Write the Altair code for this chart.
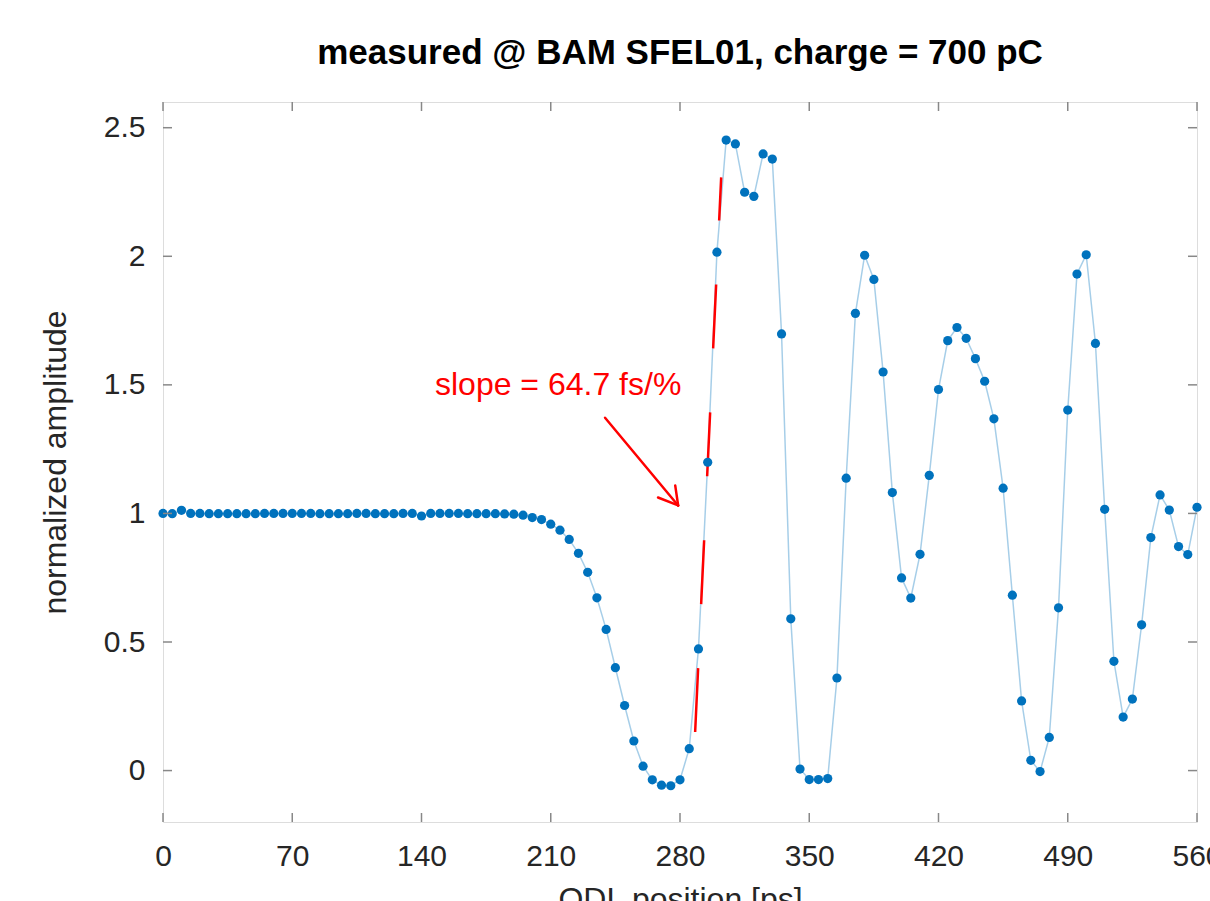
import altair as alt
import pandas as pd

# ---------------- data ----------------
x_ps = [0, 5, 10, 15, 20, 25, 30, 35, 40, 45, 50, 55, 60, 65, 70, 75, 80, 85, 90, 95,
        100, 105, 110, 115, 120, 125, 130, 135, 140, 145, 150, 155, 160, 165, 170, 175,
        180, 185, 190, 195, 200, 205, 210, 215, 220, 225, 230, 235, 240, 245, 250, 255,
        260, 265, 270, 275, 280, 285, 290, 295, 300, 305, 310, 315, 320, 325, 330, 335,
        340, 345, 350, 355, 360, 365, 370, 375, 380, 385, 390, 395, 400, 405, 410, 415,
        420, 425, 430, 435, 440, 445, 450, 455, 460, 465, 470, 475, 480, 485, 490, 495,
        500, 505, 510, 515, 520, 525, 530, 535, 540, 545, 550, 555, 560]

amplitude = [1.000, 0.999, 1.012, 1.000, 1.000, 0.999, 0.999, 0.999, 0.999, 0.999,
             0.999, 1.000, 1.000, 1.000, 1.000, 1.000, 1.000, 0.999, 0.999, 0.999,
             0.999, 1.000, 1.000, 0.999, 0.999, 0.999, 1.000, 1.000, 0.990, 1.000,
             1.000, 1.000, 1.000, 0.999, 0.999, 0.999, 0.999, 0.998, 0.997, 0.993,
             0.984, 0.976, 0.958, 0.935, 0.899, 0.845, 0.771, 0.672, 0.549, 0.400,
             0.253, 0.115, 0.017, -0.036, -0.057, -0.059, -0.036, 0.085, 0.473, 1.199,
             2.016, 2.452, 2.437, 2.249, 2.233, 2.398, 2.378, 1.698, 0.590, 0.006,
             -0.035, -0.035, -0.031, 0.360, 1.137, 1.778, 2.004, 1.910, 1.550, 1.081,
             0.749, 0.671, 0.841, 1.148, 1.482, 1.672, 1.723, 1.681, 1.602, 1.514,
             1.368, 1.098, 0.682, 0.271, 0.040, -0.004, 0.129, 0.633, 1.402, 1.931,
             2.006, 1.661, 1.016, 0.425, 0.208, 0.278, 0.567, 0.906, 1.072, 1.013,
             0.871, 0.840, 1.024]

x_ticks = [0, 70, 140, 210, 280, 350, 420, 490, 560]
y_ticks = [0, 0.5, 1, 1.5, 2, 2.5]

# fitted slope line (start -> end)
slope_x = [288.2, 302.3]
slope_y = [0.15, 2.307]

# annotation arrow: shaft + two head wings (start -> end)
arrow_x0 = [239.4, 279.0, 279.0]
arrow_y0 = [1.372, 1.031, 1.031]
arrow_x1 = [279.0, 268.1, 277.4]
arrow_y1 = [1.031, 1.062, 1.109]

note_x = [147.3]
note_y = [1.461]
note_text = ["slope = 64.7 fs/%"]

title_text = "measured @ BAM SFEL01, charge = 700 pC"
x_title = "ODL position [ps]"
y_title = "normalized amplitude"

# ---------------- chart ----------------
W, H = 1034, 720
FONT = "Liberation Sans"
BLUE = "#0072BD"
FRAME = "#888888"

xs = alt.Scale(domain=[0, 560], nice=False, zero=False)
ys = alt.Scale(domain=[-0.2, 2.6], nice=False, zero=False)

x_axis = alt.Axis(values=x_ticks, title=x_title, ticks=False, domain=False, grid=False,
                  labelFont=FONT, labelFontSize=30, labelColor="#262626",
                  labelPadding=19, labelFlush=False, labelOverlap=False, labelBound=False,
                  titleFont=FONT, titleFontSize=32, titleFontWeight="normal",
                  titleColor="#262626", titlePadding=13)
y_axis = alt.Axis(values=y_ticks, title=y_title, ticks=False, domain=False, grid=False,
                  format="~g", labelFont=FONT, labelFontSize=30, labelColor="#262626",
                  labelPadding=18, labelFlush=False, labelOverlap=False,
                  titleFont=FONT, titleFontSize=32, titleFontWeight="normal",
                  titleColor="#262626", titlePadding=31)


def X(field):
    return alt.X(field, scale=xs, axis=x_axis, title=x_title)


def Y(field):
    return alt.Y(field, scale=ys, axis=y_axis, title=y_title)


df = pd.DataFrame({"x": x_ps, "y": amplitude})

line = alt.Chart(df).mark_line(color=BLUE, opacity=0.35, strokeWidth=1.5).encode(
    x=X("x:Q"), y=Y("y:Q"))

pts = alt.Chart(df).mark_circle(color=BLUE, size=85, opacity=1).encode(
    x=X("x:Q"), y=Y("y:Q"))

slope_df = pd.DataFrame({"x0": [slope_x[0]], "y0": [slope_y[0]],
                         "x1": [slope_x[1]], "y1": [slope_y[1]]})
slope = alt.Chart(slope_df).mark_rule(color="#FF0000", strokeWidth=2.5,
                                      strokeDash=[64, 64]).encode(
    x=X("x0:Q"), y=Y("y0:Q"), x2="x1:Q", y2="y1:Q")

arrow_df = pd.DataFrame({"x0": arrow_x0, "y0": arrow_y0, "x1": arrow_x1, "y1": arrow_y1})
arrow = alt.Chart(arrow_df).mark_rule(color="#FF0000", strokeWidth=2.5,
                                      strokeCap="round").encode(
    x=X("x0:Q"), y=Y("y0:Q"), x2="x1:Q", y2="y1:Q")

note_df = pd.DataFrame({"x": note_x, "y": note_y, "t": note_text})
note = alt.Chart(note_df).mark_text(color="#FF0000", font=FONT, fontSize=32,
                                    align="left", baseline="alphabetic").encode(
    x=X("x:Q"), y=Y("y:Q"), text="t:N")

TICK = 9
xt_df = pd.DataFrame({"v": x_ticks})
yt_df = pd.DataFrame({"v": y_ticks})
xt_bottom = alt.Chart(xt_df).mark_rule(color=FRAME, strokeWidth=1.5).encode(
    x=X("v:Q"), y=alt.value(H), y2=alt.value(H - TICK))
xt_top = alt.Chart(xt_df).mark_rule(color=FRAME, strokeWidth=1.5).encode(
    x=X("v:Q"), y=alt.value(0), y2=alt.value(TICK))
yt_left = alt.Chart(yt_df).mark_rule(color=FRAME, strokeWidth=1.5).encode(
    y=Y("v:Q"), x=alt.value(0), x2=alt.value(TICK))
yt_right = alt.Chart(yt_df).mark_rule(color=FRAME, strokeWidth=1.5).encode(
    y=Y("v:Q"), x=alt.value(W), x2=alt.value(W - TICK))

chart = alt.layer(
    line, slope, pts, arrow, note, xt_bottom, xt_top, yt_left, yt_right
).properties(
    width=W, height=H,
    title=alt.TitleParams(title_text, font=FONT, fontSize=35, fontWeight="bold",
                          color="black", anchor="middle", offset=30, frame="group"),
    autosize=alt.AutoSizeParams(type="none"),
    padding={"left": 163, "top": 102, "right": 13, "bottom": 79},
).configure_view(
    stroke=FRAME, strokeWidth=1.5
).configure(background="white")

chart.save("out.html", embed_options={"renderer": "svg", "actions": False})
